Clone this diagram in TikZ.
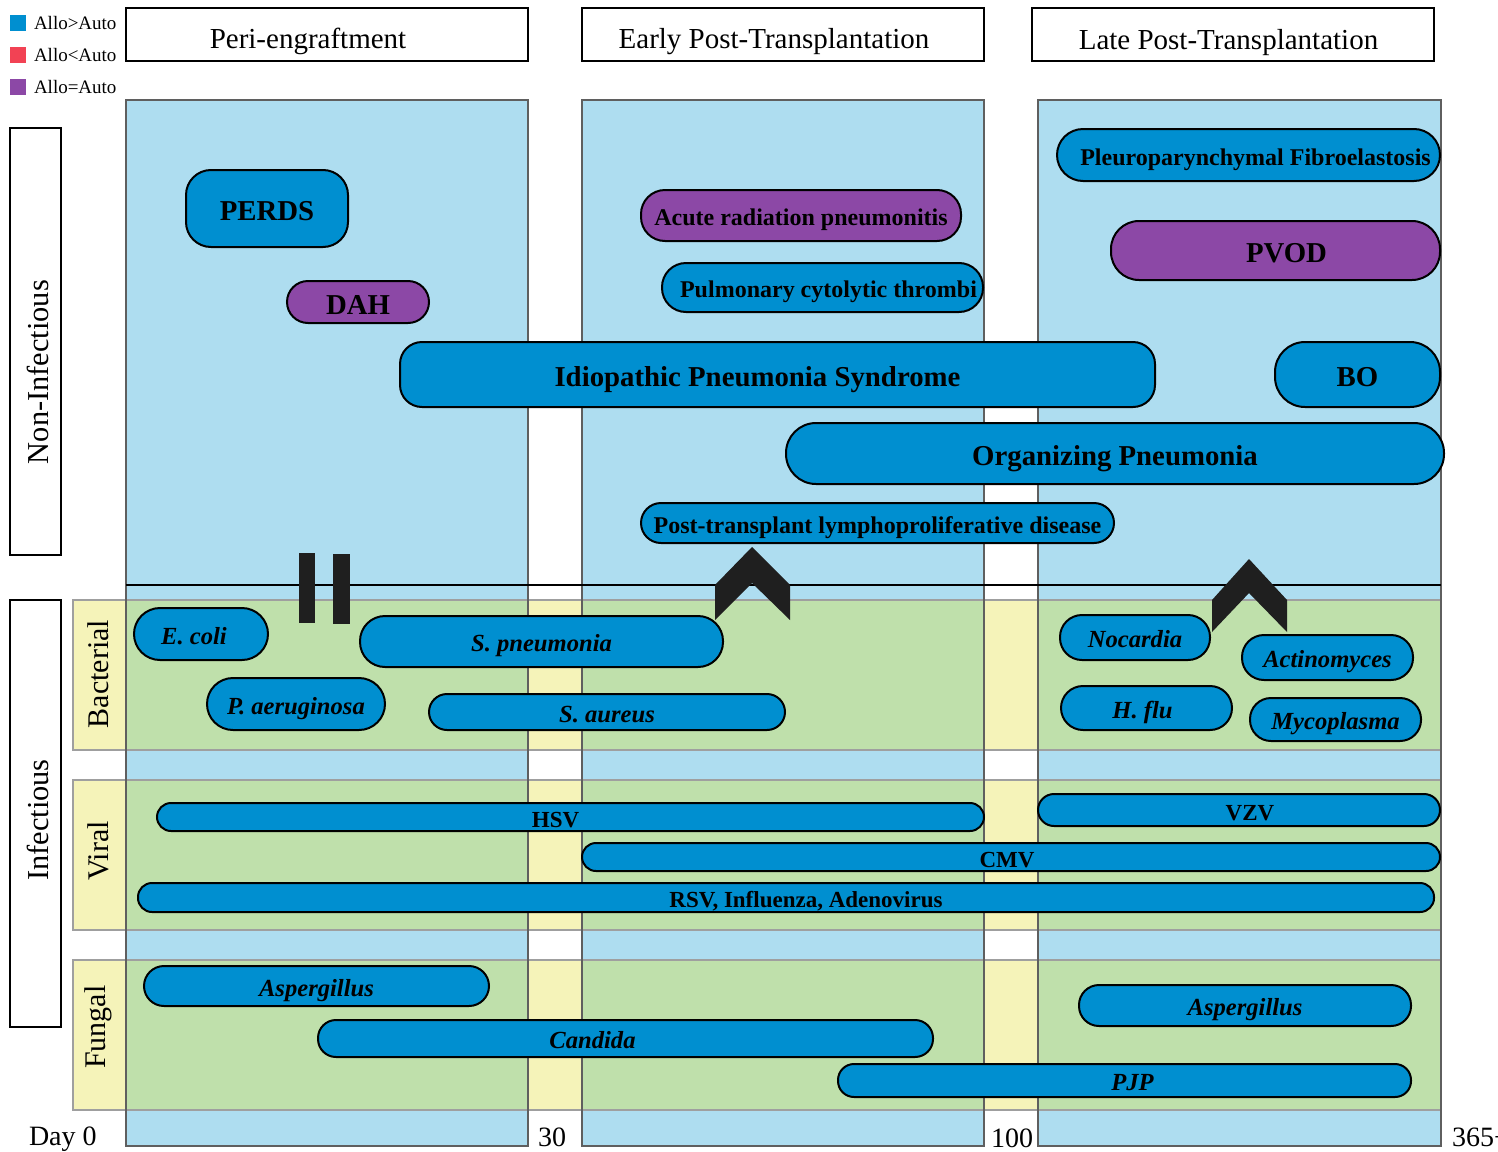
\documentclass[tikz,border=0pt]{standalone}
\usepackage{fontspec}
\setmainfont{Liberation Serif}
\usetikzlibrary{positioning}

\definecolor{allohigh}{RGB}{0,143,208}
\definecolor{allolow}{RGB}{242,66,84}
\definecolor{alloeq}{RGB}{140,72,166}
\definecolor{phaseblue}{RGB}{174,221,240}
\definecolor{bandyellow}{RGB}{245,243,185}
\definecolor{bandgreen}{RGB}{191,224,171}
\definecolor{edgegrey}{RGB}{95,95,95}

\begin{document}
\begin{tikzpicture}[x=0.5pt,y=-0.5pt]
	\tikzset{every node/.style={inner sep=0pt,outer sep=0pt}}
	\tikzset{sz/.style 2 args={minimum width=#1pt,minimum height=#2pt}}
	\tikzset{tx/.style={execute at begin node={\hspace*{#1}}}}
	\tikzset{phasebox/.style={draw=black,line width=1pt,fill=white,sz={201}{26.5},text height=13.5pt,text depth=0pt,font=\fontsize{14.5}{16}\selectfont}}
	\tikzset{sidebox/.style={draw=black,line width=1pt,sz={25.5}{213.5}}}
	\tikzset{sidetext/.style={rotate=90,font=\fontsize{15.2}{17}\selectfont}}
	\tikzset{bandtext/.style={rotate=90,font=\fontsize{15}{17}\selectfont}}
	\tikzset{pill/.style={draw=black,line width=1pt,fill=allohigh,rounded corners=#1,text height=12pt,text depth=0pt,font=\bfseries\fontsize{14.4}{16}\selectfont},pill/.default=10pt}
	\tikzset{pillmid/.style={text height=10pt,font=\bfseries\fontsize{12}{14}\selectfont}}
	\tikzset{bug/.style={text height=10pt,font=\bfseries\itshape\fontsize{12.3}{14}\selectfont}}
	\tikzset{virus/.style={text height=10pt,font=\bfseries\fontsize{11.5}{13}\selectfont}}
	\tikzset{legsq/.style={sz={8}{8}}}
	\tikzset{legtxt/.style={font=\fontsize{9.5}{11}\selectfont}}
	\tikzset{daytxt/.style={font=\fontsize{14}{16}\selectfont}}
	%\tikzset{every label/.style={font=\small}}
	\useasboundingbox (0,0) rectangle (1498,1151);

	% phase columns and bands
	\foreach \xa/\xb in {126/528,582/984,1038/1441}
		\fill[phaseblue] (\xa,100) rectangle (\xb,1146);
	\foreach \ya/\yb in {600/750,780/930,960/1110} {
		\fill[bandyellow] (73,\ya) rectangle (1441,\yb);
		\foreach \xa/\xb in {126/528,582/984,1038/1441}
			\fill[bandgreen] (\xa,\ya) rectangle (\xb,\yb);
		\draw[edgegrey!60,line width=0.8pt] (73,\ya) rectangle (1441,\yb);
	}
	\foreach \xa/\xb in {126/528,582/984,1038/1441}
		\draw[edgegrey,line width=0.8pt] (\xa,100) rectangle (\xb,1146);
	\draw[line width=1pt] (126,585) -- (1441,585);

	% legend
	\node[legsq,fill=allohigh] (lg1) at (18,23) {};
	\node[legsq,fill=allolow] (lg2) at (18,55) {};
	\node[legsq,fill=alloeq] (lg3) at (18,87) {};
	\node[legtxt,right=4pt of lg1] (lt1) {Allo>Auto};
	\node[legtxt,right=4pt of lg2] (lt2) {Allo<Auto};
	\node[legtxt,right=4pt of lg3] (lt3) {Allo=Auto};

	% phases
	\node[phasebox,tx=-19pt] (peri) at (327,34.5) {Peri-engraftment};
	\node[phasebox,tx=-9pt] (early) at (783,34.5) {Early Post-Transplantation};
	\node[phasebox,tx=-4pt,text height=14.5pt] (late) at (1232.5,34.5) {Late Post-Transplantation};

	% side labels
	\node[sidebox] (noninf) at (35.5,341.5) {};
	\node[sidetext] (noninftxt) at (38,372) {Non-Infectious};
	\node[sidebox] (inf) at (35.5,813.5) {};
	\node[sidetext] (inftxt) at (38,820) {Infectious};
	\node[bandtext] (bact) at (98,674) {Bacterial};
	\node[bandtext] (viral) at (98,851) {Viral};
	\node[bandtext] (fungal) at (98,1027) {Fungal};

	% non-infectious
	\node[pill=12.5pt,sz={81}{38.5}] (perds) at (267,208.5) {PERDS};
	\node[pill=10.5pt,sz={71}{21},fill=alloeq] (dah) at (358,302) {DAH};
	\node[pill=12pt,sz={160}{25.5},fill=alloeq,pillmid] (arp) at (801,215.5) {Acute radiation pneumonitis};
	\node[pill=12pt,sz={160.5}{24.5},pillmid,tx=6pt] (pct) at (822.5,287.5) {Pulmonary cytolytic thrombi};
	\node[pill=13pt,sz={191.5}{26},pillmid,tx=7pt] (ppfe) at (1248.5,155) {Pleuroparynchymal Fibroelastosis};
	\node[pill=14pt,sz={164.5}{29.5},fill=alloeq,tx=11pt] (pvod) at (1275.5,250.5) {PVOD};
	\node[pill=11pt,sz={377.5}{32.5},tx=-20pt] (ips) at (777.5,374.5) {Idiopathic Pneumonia Syndrome};
	\node[pill=15pt,sz={82.5}{32.5}] (bo) at (1357.5,374.5) {BO};
	\node[pill=15pt,sz={329}{30.5}] (op) at (1115,453.5) {Organizing Pneumonia};
	\node[pill=10pt,sz={236.5}{20},pillmid] (ptld) at (877.5,523) {Post-transplant lymphoproliferative disease};

	% bacterial
	\node[pill=13pt,sz={67}{26},bug,tx=-7pt] (ecoli) at (201,634) {E. coli};
	\node[pill=12.5pt,sz={181.5}{25.5},bug] (spneu) at (541.5,641.5) {S. pneumonia};
	\node[pill=13pt,sz={89}{26},bug] (paer) at (296,704) {P. aeruginosa};
	\node[pill=9pt,sz={178}{18},bug] (saur) at (607,712) {S. aureus};
	\node[pill=11pt,sz={75}{22.5},bug] (noc) at (1135,637.5) {Nocardia};
	\node[pill=11pt,sz={85.5}{22.5},bug] (actino) at (1327.5,657.5) {Actinomyces};
	\node[pill=11pt,sz={85.5}{22},bug,tx=-4pt] (hflu) at (1146.5,708) {H. flu};
	\node[pill=10.5pt,sz={85.5}{21.5},bug] (myco) at (1335.5,719.5) {Mycoplasma};

	% viral
	\node[pill=7pt,sz={413.5}{14},virus,tx=-15pt] (hsv) at (570.5,817) {HSV};
	\node[pill=8pt,sz={201}{16},virus,tx=11pt] (vzv) at (1239,810) {VZV};
	\node[pill=7pt,sz={429}{14},virus,tx=-4pt] (cmv) at (1011,857) {CMV};
	\node[pill=7pt,sz={648}{14.5},virus,tx=20pt] (rsv) at (786,897.5) {RSV, Influenza, Adenovirus};

	% fungal
	\node[pill=10pt,sz={172.5}{20},bug] (asp1) at (316.5,986) {Aspergillus};
	\node[pill=9pt,sz={307.5}{18.5},bug,tx=-33pt] (cand) at (625.5,1038.5) {Candida};
	\node[pill=10pt,sz={166}{20.5},bug] (asp2) at (1245,1005.5) {Aspergillus};
	\node[pill=8pt,sz={286.5}{16.5},bug,tx=8pt] (pjp) at (1124.5,1080.5) {PJP};

	% markers
	\fill[black!88] (299,553) rectangle (315,623);
	\fill[black!88] (333,554) rectangle (350,624);
	\fill[black!88] (752,547) -- (790,585) -- (790,620) -- (752,583) -- (715,620) -- (715,585) -- cycle;
	\fill[black!88] (1249,559) -- (1287,600) -- (1287,632) -- (1249,593) -- (1212,632) -- (1212,600) -- cycle;

	% days
	\node[daytxt,anchor=base west] (d0) at (29,1145) {Day 0};
	\node[daytxt,anchor=base] (d30) at (552,1146) {30};
	\node[daytxt,anchor=base] (d100) at (1012,1147) {100};
	\node[daytxt,anchor=base west] (d365) at (1452,1146) {365+};
\end{tikzpicture}
\end{document}
